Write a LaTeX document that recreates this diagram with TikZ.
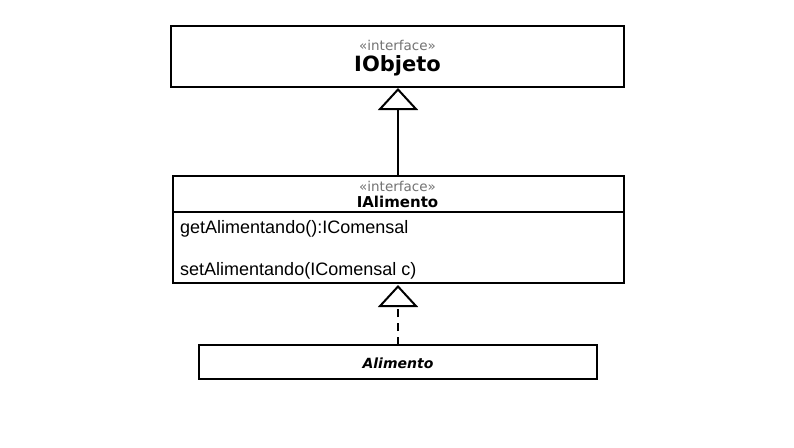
\documentclass[tikz,border=0pt]{standalone}
\usepackage{fontspec}
\setmainfont{DejaVu Sans}
\newfontfamily\methfont{Liberation Sans}
\usetikzlibrary{arrows.meta}
\tikzset{
  umlbox/.style={draw=black, line width=2pt, fill=white},
  stereo/.style={text=black!55, font=\fontsize{13.5}{14}\selectfont, inner sep=0pt},
  realize/.style={-{Triangle[open, width=40pt, length=22pt, line width=2pt]}, line width=2pt},
}
\begin{document}
\begin{tikzpicture}[x=1pt, y=-1pt]
\path[use as bounding box, fill=white] (0,0) rectangle (794,447);
% IObjeto
\draw[umlbox] (171,26) rectangle (624,87);
\node[stereo] (s1) at (397.5,45) {«interface»};
\node[inner sep=0pt, font=\fontsize{21}{23}\selectfont\bfseries] (iobj) at (397.5,66) {IObjeto};
\coordinate (iobjB) at (398,88);
% IAlimento
\draw[umlbox] (173,176) rectangle (624,283);
\draw[line width=2pt] (173,212) -- (624,212);
\node[stereo] (s2) at (397.5,186) {«interface»};
\node[inner sep=0pt, font=\fontsize{15}{16}\selectfont\bfseries] (ial) at (397.5,202) {IAlimento};
\node[inner sep=0pt, anchor=west, font=\methfont\fontsize{18}{20}\selectfont] (m1) at (180,229) {getAlimentando():IComensal};
\node[inner sep=0pt, anchor=west, font=\methfont\fontsize{18}{20}\selectfont] (m2) at (180,271) {setAlimentando(IComensal c)};
\coordinate (ialT) at (398,176);
\coordinate (ialB) at (398,285);
% Alimento
\draw[umlbox] (199,345) rectangle (597,379);
\node[inner sep=0pt, font=\fontsize{14}{15}\selectfont\bfseries\itshape] (alim) at (398,363) {Alimento};
\coordinate (alimT) at (398,345);
% connectors
\draw[realize] (ialT) -- (iobjB);
\draw[realize, dash pattern=on 8pt off 6pt] (alimT) -- (ialB);
\end{tikzpicture}
\end{document}
